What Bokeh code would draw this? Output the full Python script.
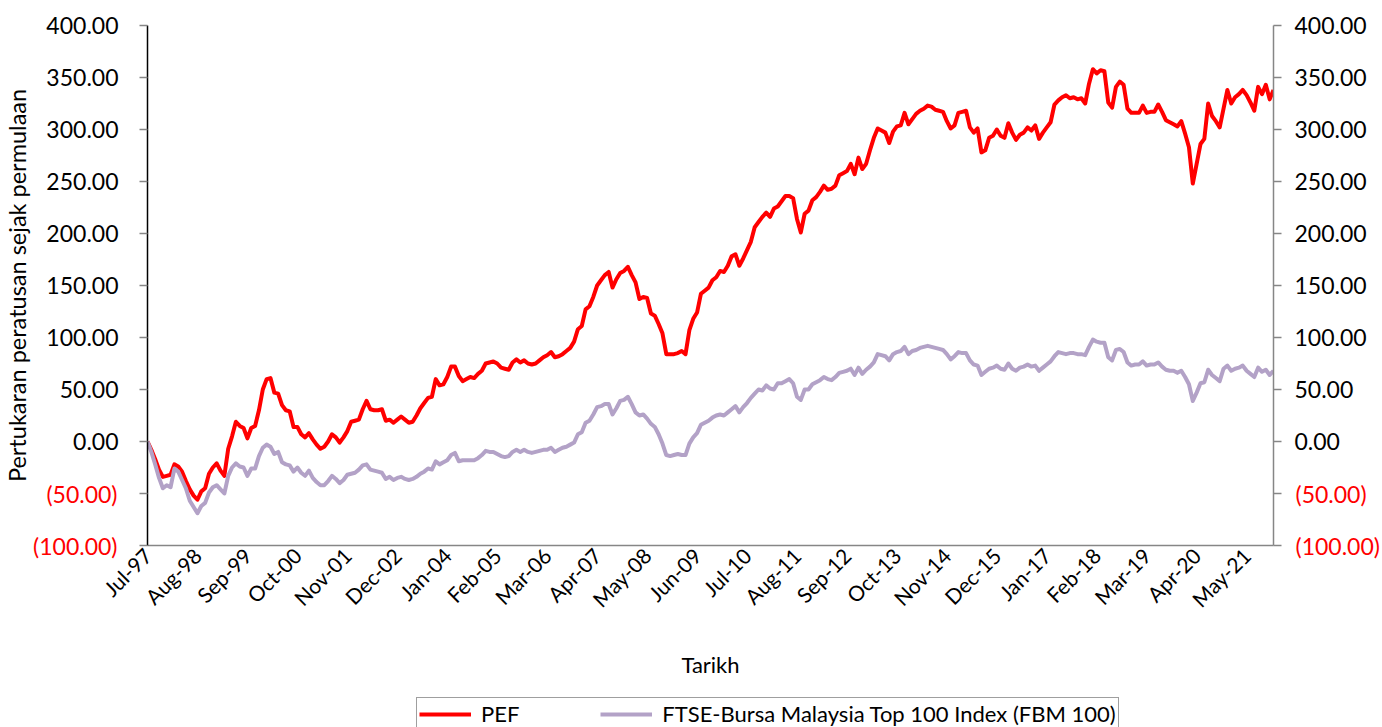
from math import pi
import pandas as pd
from bokeh.plotting import figure
from bokeh.layouts import column
from bokeh.models import (Range1d, LinearAxis, FixedTicker, Legend, LegendItem,
                          ColumnDataSource)
from bokeh.embed import file_html
from bokeh.resources import INLINE

# ---- data (monthly, Jul-97 .. Dec-21), % change since inception ----
pef = [
    0, -8, -17, -27, -34, -33, -32, -22, -24, -29,
    -38, -46, -52, -56, -48, -45, -31, -25, -21, -28,
    -33, -7, 5, 19, 15, 13, 3, 13, 15, 30,
    50, 60, 61, 47, 46, 35, 30, 29, 14, 14,
    7, 4, 8, 2, -3, -7, -5, 0, 7, 4,
    -1, 4, 10, 19, 20, 21, 31, 39, 31, 30,
    30, 31, 20, 21, 18, 21, 24, 21, 18, 19,
    25, 32, 37, 42, 43, 60, 54, 55, 62, 72,
    72, 63, 58, 60, 62, 61, 65, 68, 75, 76,
    77, 75, 71, 70, 69, 76, 79, 76, 78, 75,
    74, 75, 78, 81, 83, 86, 81, 82, 84, 87,
    90, 96, 108, 111, 127, 130, 139, 150, 155, 160,
    163, 148, 156, 162, 164, 168, 160, 153, 137, 139,
    138, 123, 121, 113, 104, 84, 84, 84, 85, 87,
    84, 107, 118, 124, 142, 145, 148, 155, 158, 164,
    163, 169, 178, 180, 169, 176, 184, 192, 206, 211,
    216, 220, 216, 224, 226, 231, 236, 236, 234, 214,
    201, 219, 222, 232, 235, 240, 246, 242, 243, 246,
    256, 258, 260, 267, 257, 273, 262, 267, 280, 292,
    301, 299, 297, 287, 298, 303, 304, 316, 305, 310,
    315, 318, 320, 323, 322, 319, 318, 317, 308, 301,
    304, 316, 317, 318, 302, 297, 301, 278, 280, 292,
    294, 300, 294, 292, 306, 297, 290, 295, 297, 302,
    299, 304, 291, 297, 302, 307, 324, 328, 331, 333,
    330, 331, 329, 330, 325, 344, 358, 354, 357, 356,
    326, 321, 341, 346, 343, 320, 316, 316, 316, 323,
    316, 317, 317, 324, 317, 309, 307, 305, 303, 308,
    296, 283, 248, 267, 286, 291, 325, 313, 308, 302,
    320, 338, 325, 331, 334, 338, 333, 326, 318, 341,
    334, 343, 329, 338,
]
fbm = [
    0, -10, -22, -35, -45, -42, -44, -26, -29, -37,
    -45, -57, -63, -69, -62, -59, -49, -44, -42, -46,
    -50, -33, -25, -21, -24, -25, -33, -26, -26, -14,
    -6, -3, -5, -12, -10, -20, -22, -23, -29, -25,
    -30, -33, -28, -35, -39, -42, -42, -38, -33, -36,
    -40, -37, -32, -31, -30, -27, -23, -22, -27, -28,
    -29, -30, -36, -34, -37, -35, -34, -36, -37, -36,
    -34, -31, -29, -26, -27, -19, -22, -20, -18, -13,
    -11, -19, -18, -18, -18, -18, -16, -13, -9, -10,
    -10, -12, -14, -15, -14, -10, -8, -10, -8, -10,
    -11, -10, -9, -8, -8, -6, -10, -8, -6, -5,
    -3, -1, 7, 9, 18, 20, 26, 33, 34, 36,
    36, 26, 32, 39, 40, 43, 36, 28, 25, 26,
    22, 17, 14, 7, -2, -13, -14, -13, -12, -13,
    -13, -2, 4, 8, 16, 18, 20, 23, 25, 26,
    25, 28, 31, 34, 28, 33, 37, 42, 46, 50,
    49, 54, 51, 50, 56, 56, 58, 60, 56, 43,
    40, 50, 50, 55, 57, 59, 62, 60, 59, 62,
    66, 67, 68, 70, 64, 71, 65, 69, 72, 76,
    84, 83, 82, 78, 84, 86, 87, 91, 84, 87,
    88, 90, 91, 92, 91, 90, 89, 88, 84, 79,
    82, 86, 85, 85, 78, 74, 73, 64, 67, 70,
    71, 73, 70, 69, 75, 70, 68, 71, 72, 74,
    72, 73, 68, 71, 74, 77, 82, 86, 85, 84,
    85, 85, 84, 84, 83, 91, 98, 96, 95, 95,
    81, 78, 88, 89, 86, 76, 73, 74, 74, 77,
    73, 74, 74, 76, 72, 69, 68, 68, 66, 68,
    62, 55, 39, 47, 56, 57, 69, 64, 61, 58,
    70, 73, 68, 70, 71, 73, 68, 65, 62, 71,
    67, 69, 64, 68,
]
series_names = ["PEF", "FTSE-Bursa Malaysia Top 100 Index (FBM 100)"]
first_month = "1997-07-01"
label_every = 13
y_ticks = [-100, -50, 0, 50, 100, 150, 200, 250, 300, 350, 400]
y_tick_labels = ["(100.00)", "(50.00)", "0.00", "50.00", "100.00", "150.00",
                 "200.00", "250.00", "300.00", "350.00", "400.00"]
x_title = "Tarikh"
y_title = "Pertukaran peratusan sejak permulaan"

# ---- derived ----
n = len(pef)
months = pd.date_range(first_month, periods=n, freq="MS")
month_labels = [d.strftime("%b-%y") for d in months]
x_ticks = list(range(0, n, label_every))

FONT = "Lato"
TICK_FS = "23px"
XTICK_FS = "21px"
TITLE_FS = "23.5px"
LEG_FS = "22px"
RED = "#FF0000"
PURPLE = "#B3A2C7"
GREY = "#868686"
L_EST = 74          # width Bokeh measures for the widest black tick label

W = 1382
p = figure(width=W, height=697, output_backend="svg", toolbar_location=None,
           x_range=Range1d(0, n - 1), y_range=Range1d(-100, 400),
           min_border_left=147, min_border_right=109, min_border_top=25,
           min_border_bottom=152, x_axis_label=x_title)
p.grid.visible = False
p.outline_line_color = None

src = ColumnDataSource(dict(x=list(range(n)), pef=pef, fbm=fbm))
r_pef = p.line("x", "pef", source=src, line_color=RED, line_width=4,
               line_join="round")
r_fbm = p.line("x", "fbm", source=src, line_color=PURPLE, line_width=4,
               line_join="round")

# x axis
xa = p.xaxis[0]
xa.ticker = FixedTicker(ticks=x_ticks)
xa.major_label_overrides = {int(i): month_labels[i] for i in x_ticks}
xa.major_label_orientation = pi / 4
xa.major_tick_out = 0
xa.major_tick_in = 0
xa.minor_tick_out = 0
xa.minor_tick_in = 0
xa.axis_line_color = GREY
xa.axis_line_width = 1.5
xa.major_label_standoff = 6
xa.major_label_text_font = FONT
xa.major_label_text_font_size = XTICK_FS
xa.major_label_text_color = "black"
xa.axis_label_text_font = FONT
xa.axis_label_text_font_size = "22px"
xa.axis_label_text_font_style = "normal"
xa.axis_label_text_color = "black"
xa.axis_label_standoff = 28

pos_over = {int(t): (lab if t >= 0 else "") for t, lab in zip(y_ticks, y_tick_labels)}
neg_over = {int(t): (lab if t < 0 else "") for t, lab in zip(y_ticks, y_tick_labels)}


def style_value_axis(ax, standoff, line_col):
    ax.ticker = FixedTicker(ticks=y_ticks)
    ax.major_label_overrides = dict(pos_over)
    ax.axis_line_color = line_col
    ax.axis_line_width = 1.5
    ax.major_tick_line_color = GREY
    ax.major_tick_line_width = 1.5
    ax.major_tick_out = 8
    ax.major_tick_in = 0
    ax.minor_tick_out = 0
    ax.minor_tick_in = 0
    ax.major_label_standoff = standoff
    ax.major_label_text_font = FONT
    ax.major_label_text_font_size = TICK_FS
    ax.major_label_text_color = "black"


def neg_label_axis():
    # companion axis that only prints the negative tick labels, in red,
    # at the same place as the black labels of the axis next to the frame
    return LinearAxis(ticker=FixedTicker(ticks=y_ticks),
                      major_label_overrides=dict(neg_over),
                      axis_line_color=None, major_tick_line_color=None,
                      minor_tick_line_color=None,
                      major_tick_out=0, major_tick_in=0,
                      minor_tick_out=0, minor_tick_in=0,
                      major_label_standoff=-L_EST,
                      major_label_text_font=FONT,
                      major_label_text_font_size=TICK_FS,
                      major_label_text_color=RED)


ya = p.yaxis[0]
style_value_axis(ya, 21, "black")
ya_neg = neg_label_axis()
ya_neg.axis_label = y_title
ya_neg.axis_label_text_font = FONT
ya_neg.axis_label_text_font_size = TITLE_FS
ya_neg.axis_label_text_font_style = "normal"
ya_neg.axis_label_text_color = "black"
ya_neg.axis_label_standoff = -1
p.add_layout(ya_neg, "left")

ra = LinearAxis()
style_value_axis(ra, 13, GREY)
p.add_layout(ra, "right")
ra_neg = neg_label_axis()
p.add_layout(ra_neg, "right")

# ---- legend strip under the chart (cut by the window like the original) ----
q = figure(width=W, height=30, output_backend="svg", toolbar_location=None,
           x_range=Range1d(0, 1), y_range=Range1d(0, 1),
           x_axis_type=None, y_axis_type=None, min_border=0)
q.grid.visible = False
q.outline_line_color = None
# legend keys (single-point lines draw nothing in the strip itself)
k_pef = q.line(x=[0], y=[0], line_color=RED, line_width=4)
k_fbm = q.line(x=[0], y=[0], line_color=PURPLE, line_width=4)
legend = Legend(items=[LegendItem(label=series_names[0], renderers=[k_pef]),
                       LegendItem(label=series_names[1], renderers=[k_fbm])],
                orientation="horizontal", location=(269, -3))
legend.padding = 2
legend.spacing = 81
legend.glyph_width = 52
legend.glyph_height = 24
legend.label_height = 24
legend.label_standoff = 10
legend.label_text_font = FONT
legend.label_text_font_size = LEG_FS
legend.label_text_color = "black"
legend.border_line_color = "#404040"
legend.border_line_width = 1.5
legend.background_fill_color = "white"
legend.background_fill_alpha = 1
q.add_layout(legend, "center")

layout = column(p, q, spacing=0)
open("out.html", "w").write(file_html(layout, INLINE))
